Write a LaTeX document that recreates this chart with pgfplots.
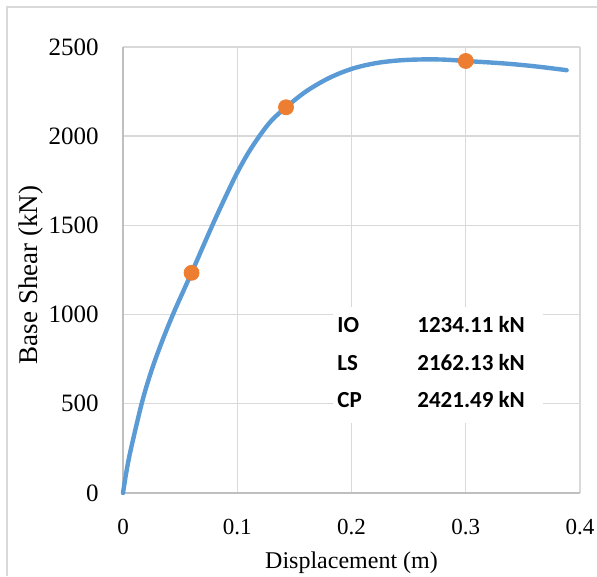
\documentclass[border=0pt]{standalone}
\usepackage{pgfplots}
\pgfplotsset{compat=1.18}
\usepackage{fontspec}
\setmainfont{Liberation Serif}
\newfontfamily\carlito{Carlito}

\definecolor{curveblue}{HTML}{5B9BD5}
\definecolor{ptorange}{HTML}{ED7D31}
\definecolor{gridgray}{HTML}{D9D9D9}
\definecolor{axisgray}{HTML}{BFBFBF}

\begin{document}
\begin{tikzpicture}
\useasboundingbox (0,0) rectangle (298.5pt,288pt);
% outer chart frame
\draw[gridgray, line width=0.9pt] (3.5pt,0) -- (3.5pt,284.5pt) -- (298.5pt,284.5pt);
\begin{axis}[
  at={(61.5pt,41.5pt)}, anchor=south west,
  scale only axis, width=228.5pt, height=223pt,
  xmin=0, xmax=0.4, ymin=0, ymax=2500,
  xtick={0,0.1,0.2,0.3,0.4},
  ytick={0,500,1000,1500,2000,2500},
  axis x line*=bottom, axis y line*=left,
  x axis line style={-, axisgray, line width=0.7pt},
  y axis line style={-, axisgray, line width=0.7pt},
  major tick length=0pt,
  grid=major,
  major grid style={gridgray, line width=0.7pt},
  /pgf/number format/assume math mode=true,
  /pgf/number format/1000 sep={},
  yticklabel style={font=\fontsize{12.5}{14}\selectfont, inner sep=0pt, anchor=east, xshift=-12pt},
  xticklabel style={font=\fontsize{11.5}{13}\selectfont, inner sep=0pt, anchor=north, yshift=-13pt},
  xlabel={Displacement (m)},
  xlabel style={font=\fontsize{12}{14}\selectfont, at={(axis description cs:0.5,0)}, anchor=center, yshift=-35pt},
  ylabel={Base Shear (kN)},
  % the label is turned by 90 degrees, so its shifts act in the turned frame
  ylabel style={font=\fontsize{13.5}{15}\selectfont, at={(axis description cs:0,0.5)}, anchor=center, yshift=46pt, xshift=-2.5pt},
  clip=false,
]
% pushover capacity curve
\addplot[curveblue, line width=2.2pt, smooth, tension=0.55, line cap=round] coordinates {
  (0,0) (0.003,120) (0.0067,240) (0.0163,500) (0.0242,672)
  (0.033,830) (0.044,1005) (0.06,1234) (0.07,1381)
  (0.08,1526) (0.09,1664) (0.1,1796) (0.11,1910) (0.12,2006)
  (0.13,2088) (0.1427,2162) (0.16,2250) (0.18,2325) (0.2,2377)
  (0.22,2408) (0.24,2424) (0.26,2430) (0.28,2429.5) (0.30,2421.5)
  (0.333,2408) (0.36,2392) (0.3883,2370)
};
% performance levels
\addplot[only marks, mark=*, mark size=3.75pt, ptorange, mark options={draw=ptorange, fill=ptorange}] coordinates {
  (0.06,1234.11) (0.1427,2162.13) (0.30,2421.49)
};
% summary box
\fill[white] (axis cs:0.1838,393) rectangle (axis cs:0.3676,1043);
\begin{scope}[every node/.style={font=\carlito\bfseries\fontsize{11.5}{13}\selectfont, anchor=west, inner sep=0pt}]
\node at (axis cs:0.1873,942) {IO};
\node at (axis cs:0.2573,942) {1234.11 kN};
\node at (axis cs:0.1873,729) {LS};
\node at (axis cs:0.2573,729) {2162.13 kN};
\node at (axis cs:0.1873,522) {CP};
\node at (axis cs:0.2573,522) {2421.49 kN};
\end{scope}
\end{axis}
\end{tikzpicture}
\end{document}
